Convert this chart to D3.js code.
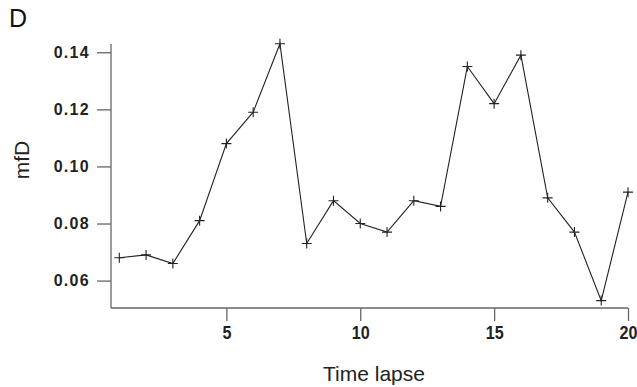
<!DOCTYPE html>
<html>
<head>
<meta charset="utf-8">
<script src="https://cdn.jsdelivr.net/npm/d3@7"></script>
<style>
  body { margin: 0; background: #fff; }
  .tick text { font-family: "Liberation Sans", Arial, sans-serif; font-weight: bold; fill: #222; }
</style>
</head>
<body>
<div id="chart"></div>
<script>
// time points and mfD values
const timePoints = d3.range(1, 21);
const mfdValues = [0.068, 0.069, 0.066, 0.081, 0.108, 0.119, 0.143, 0.073, 0.088, 0.080,
                   0.077, 0.088, 0.086, 0.135, 0.122, 0.139, 0.089, 0.077, 0.053, 0.091];
const xTicks = [5, 10, 15, 20];
const yTicks = [0.06, 0.08, 0.10, 0.12, 0.14];

const width = 637, height = 387;
const margin = { top: 44, right: 9, bottom: 79, left: 111 };

const svg = d3.select('#chart')
  .append('svg')
  .attr('width', width)
  .attr('height', height);

const x = d3.scaleLinear()
  .domain([0.69, 20])
  .range([margin.left, width - margin.right]);

const y = d3.scaleLinear()
  .domain([0.0504, 0.1429])
  .range([height - margin.bottom, margin.top]);

const axisColor = '#666';

// x axis
const gx = svg.append('g')
  .attr('transform', `translate(0, ${height - margin.bottom})`)
  .call(d3.axisBottom(x).tickValues(xTicks).tickSize(13).tickPadding(0).tickFormat(d3.format('d')));
gx.select('.domain').attr('stroke', axisColor).attr('stroke-width', 1.3).attr('d', `M${margin.left},0H${x(20)}`);
gx.selectAll('.tick line').attr('stroke', axisColor).attr('stroke-width', 1.3);
gx.selectAll('.tick text')
  .attr('dy', null)
  .attr('y', 31)
  .attr('transform', 'scale(0.85,1)')
  .style('font-size', '19px');

// y axis
const gy = svg.append('g')
  .attr('transform', `translate(${margin.left}, 0)`)
  .call(d3.axisLeft(y).tickValues(yTicks).tickSize(14).tickPadding(7).tickFormat(d3.format('.2f')));
gy.select('.domain').attr('stroke', axisColor).attr('stroke-width', 1.3).attr('d', `M0,${margin.top}V${height - margin.bottom}`);
gy.selectAll('.tick line').attr('stroke', axisColor).attr('stroke-width', 1.3);
gy.selectAll('.tick text').style('font-size', '16px').style('letter-spacing', '1.3px');

// line
const line = d3.line()
  .x((d, i) => x(timePoints[i]))
  .y(d => y(d));

svg.append('path')
  .datum(mfdValues)
  .attr('fill', 'none')
  .attr('stroke', '#222')
  .attr('stroke-width', 1.1)
  .attr('d', line);

// + markers
const s = 5;
svg.selectAll('path.pt')
  .data(mfdValues)
  .enter()
  .append('path')
  .attr('class', 'pt')
  .attr('fill', 'none')
  .attr('stroke', '#222')
  .attr('stroke-width', 1.1)
  .attr('d', (d, i) => {
    const cx = x(timePoints[i]), cy = y(d);
    return `M${cx - s},${cy}H${cx + s}M${cx},${cy - s}V${cy + s}`;
  });

// labels
svg.append('text')
  .attr('x', 9)
  .attr('y', 27)
  .style('font-family', 'Liberation Sans, Arial, sans-serif')
  .style('font-size', '25px')
  .attr('fill', '#111')
  .text('D');

svg.append('text')
  .attr('transform', 'translate(29, 160) rotate(-90)')
  .attr('text-anchor', 'middle')
  .style('font-family', 'Liberation Sans, Arial, sans-serif')
  .style('font-size', '21px')
  .attr('fill', '#222')
  .text('mfD');

svg.append('text')
  .attr('x', 374)
  .attr('y', 381)
  .attr('text-anchor', 'middle')
  .style('font-family', 'Liberation Sans, Arial, sans-serif')
  .style('font-size', '21px')
  .attr('fill', '#222')
  .text('Time lapse');
</script>
</body>
</html>
